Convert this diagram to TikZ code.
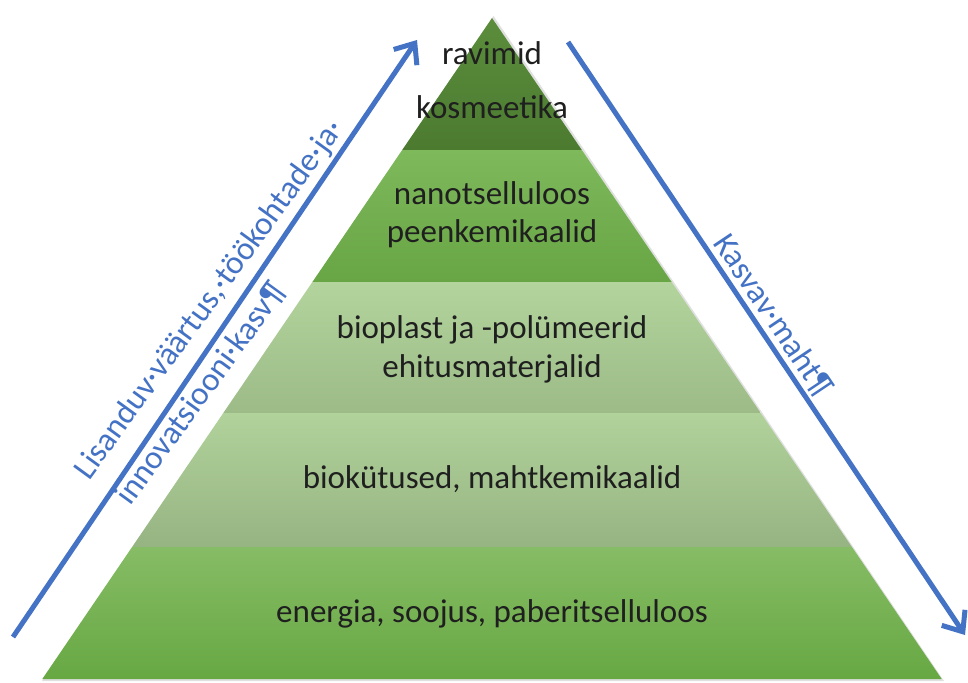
\documentclass[tikz,border=0pt]{standalone}
\usepackage{fontspec}
\setmainfont{Carlito}
\usetikzlibrary{arrows.meta}
\definecolor{arrowblue}{HTML}{4472C4}
\definecolor{gAtop}{HTML}{5B8D3C}
\definecolor{gAbot}{HTML}{4C7B30}
\definecolor{gBtop}{HTML}{7EB95C}
\definecolor{gBbot}{HTML}{68A544}
\definecolor{gCtop}{HTML}{B3D49D}
\definecolor{gCbot}{HTML}{9CBB87}
\definecolor{gDtop}{HTML}{B1D29B}
\definecolor{gDbot}{HTML}{96B482}
\definecolor{gEtop}{HTML}{86BC65}
\definecolor{gEbot}{HTML}{67A843}
\begin{document}
\begin{tikzpicture}[x=1pt,y=-1pt,
  layertext/.style={font=\fontsize{33}{38}\selectfont, text=black!88, anchor=base, inner sep=0pt},
  sidetext/.style={font=\fontsize{33}{38}\selectfont, text=arrowblue, anchor=base, inner sep=0pt},
  bluearrow/.style={draw=arrowblue, line width=5pt, -{Straight Barb[length=17pt,width=28pt]}}]
\fill[white] (0,0) rectangle (968,682);
\useasboundingbox (0,0) rectangle (968,682);
% shadow
\fill[black!12] (493.5,16) -- (944,681) -- (42,681) -- cycle;
% layers
\shade[top color=gAtop, bottom color=gAbot] (492,18) -- (581.8,150) -- (402.2,150) -- cycle;
\shade[top color=gBtop, bottom color=gBbot] (402.2,150) -- (581.8,150) -- (671.6,282) -- (312.4,282) -- cycle;
\shade[top color=gCtop, bottom color=gCbot] (312.4,282) -- (671.6,282) -- (760.7,413) -- (223.3,413) -- cycle;
\shade[top color=gDtop, bottom color=gDbot] (223.3,413) -- (760.7,413) -- (851.9,547) -- (132.1,547) -- cycle;
\shade[top color=gEtop, bottom color=gEbot] (132.1,547) -- (851.9,547) -- (941.7,679) -- (42.3,679) -- cycle;
% layer texts
\node[layertext] (t1a) at (492,65) {ravimid};
\node[layertext] (t1b) at (492,118) {kosmeetika};
\node[layertext] (t2a) at (492,204) {nanotselluloos};
\node[layertext] (t2b) at (492,242) {peenkemikaalid};
\node[layertext] (t3a) at (492,338) {bioplast ja -polümeerid};
\node[layertext] (t3b) at (492,377) {ehitusmaterjalid};
\node[layertext] (t4) at (492,488) {biokütused, mahtkemikaalid};
\node[layertext] (t5) at (492,622) {energia, soojus, paberitselluloos};
% arrows
\coordinate (Ltail) at (13,637);
\coordinate (Lhead) at (417,40);
\coordinate (Rtail) at (568,42);
\coordinate (Rhead) at (965,635);
\draw[bluearrow] (Ltail) -- (Lhead);
\draw[bluearrow] (Rtail) -- (Rhead);
% side texts
\node[sidetext, rotate=54] (lt1) at (217,305) {Lisanduv·väärtus,·töökohtade·ja·};
\node[sidetext, rotate=54] (lt2) at (209,399) {innovatsiooni·kasv¶};
\node[sidetext, rotate=-56.2] (rt) at (765,321) {Kasvav·maht¶};
\end{tikzpicture}
\end{document}
